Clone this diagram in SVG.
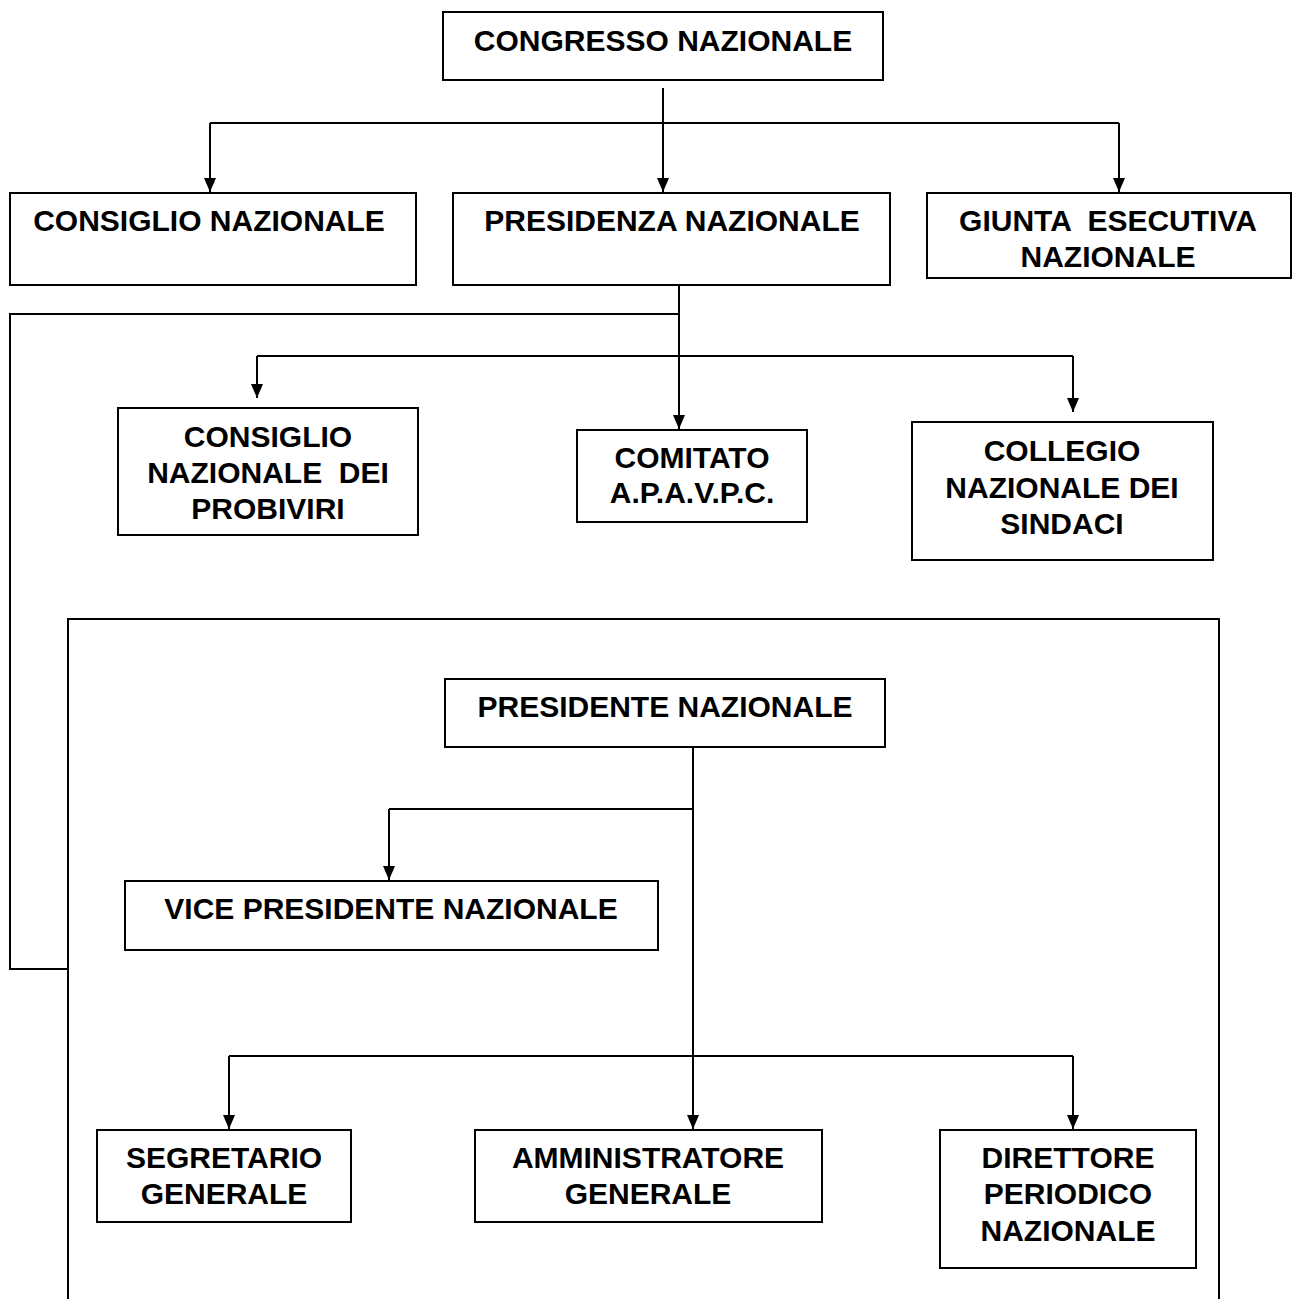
<svg xmlns="http://www.w3.org/2000/svg" width="1293" height="1299" viewBox="0 0 1293 1299">
<defs>
<marker id="arr" markerWidth="14" markerHeight="12" refX="14" refY="6" orient="auto" markerUnits="userSpaceOnUse" viewBox="0 0 14 12">
<path d="M0,0 L14,6 L0,12 Z" fill="#000"/>
</marker>
</defs>
<style>
.box{fill:#fff;stroke:#000;stroke-width:2}
.t{font-family:"Liberation Sans",Arial,sans-serif;font-size:30px;font-weight:bold;fill:#000;text-anchor:middle}
.c{fill:none;stroke:#000;stroke-width:2}
.ca{fill:none;stroke:#000;stroke-width:2;marker-end:url(#arr)}
</style>
<rect width="1293" height="1299" fill="#fff"/>
<g id="connectors">
<path class="c" d="M663,88 V123"/>
<path class="c" d="M210,123 H1119"/>
<path class="ca" d="M210,123 V192"/>
<path class="ca" d="M663,123 V192"/>
<path class="ca" d="M1119,123 V192"/>
<path class="ca" d="M679,286 V429"/>
<path class="c" d="M679,314 H10 V969 H68"/>
<path class="c" d="M257,356 H1073"/>
<path class="ca" d="M257,356 V398"/>
<path class="ca" d="M1073,356 V412"/>
<path class="c" d="M68,1299 V619 H1219 V1299"/>
<path class="ca" d="M693,748 V1129"/>
<path class="c" d="M693,809 H389"/>
<path class="ca" d="M389,809 V880"/>
<path class="c" d="M229,1056 H1073"/>
<path class="ca" d="M229,1056 V1129"/>
<path class="ca" d="M1073,1056 V1129"/>
</g>
<g id="congresso"><rect class="box" x="443" y="12" width="440" height="68"/><text class="t" x="663" y="51">CONGRESSO NAZIONALE</text></g>
<g id="consiglio"><rect class="box" x="10" y="193" width="406" height="92"/><text class="t" x="209" y="231">CONSIGLIO NAZIONALE</text></g>
<g id="presidenza"><rect class="box" x="453" y="193" width="437" height="92"/><text class="t" x="672" y="231">PRESIDENZA NAZIONALE</text></g>
<g id="giunta"><rect class="box" x="927" y="193" width="364" height="85"/><text class="t" x="1108" y="231" xml:space="preserve">GIUNTA  ESECUTIVA</text><text class="t" x="1108" y="267">NAZIONALE</text></g>
<g id="probiviri"><rect class="box" x="118" y="408" width="300" height="127"/><text class="t" x="268" y="447">CONSIGLIO</text><text class="t" x="268" y="483" xml:space="preserve">NAZIONALE  DEI</text><text class="t" x="268" y="519">PROBIVIRI</text></g>
<g id="comitato"><rect class="box" x="577" y="430" width="230" height="92"/><text class="t" x="692" y="468">COMITATO</text><text class="t" x="692" y="503">A.P.A.V.P.C.</text></g>
<g id="collegio"><rect class="box" x="912" y="422" width="301" height="138"/><text class="t" x="1062" y="461">COLLEGIO</text><text class="t" x="1062" y="498">NAZIONALE DEI</text><text class="t" x="1062" y="534">SINDACI</text></g>
<g id="presidente"><rect class="box" x="445" y="679" width="440" height="68"/><text class="t" x="665" y="717">PRESIDENTE NAZIONALE</text></g>
<g id="vice"><rect class="box" x="125" y="881" width="533" height="69"/><text class="t" x="391" y="919">VICE PRESIDENTE NAZIONALE</text></g>
<g id="segretario"><rect class="box" x="97" y="1130" width="254" height="92"/><text class="t" x="224" y="1168">SEGRETARIO</text><text class="t" x="224" y="1204">GENERALE</text></g>
<g id="amministratore"><rect class="box" x="475" y="1130" width="347" height="92"/><text class="t" x="648" y="1168">AMMINISTRATORE</text><text class="t" x="648" y="1204">GENERALE</text></g>
<g id="direttore"><rect class="box" x="940" y="1130" width="256" height="138"/><text class="t" x="1068" y="1168">DIRETTORE</text><text class="t" x="1068" y="1204">PERIODICO</text><text class="t" x="1068" y="1241">NAZIONALE</text></g>
</svg>
